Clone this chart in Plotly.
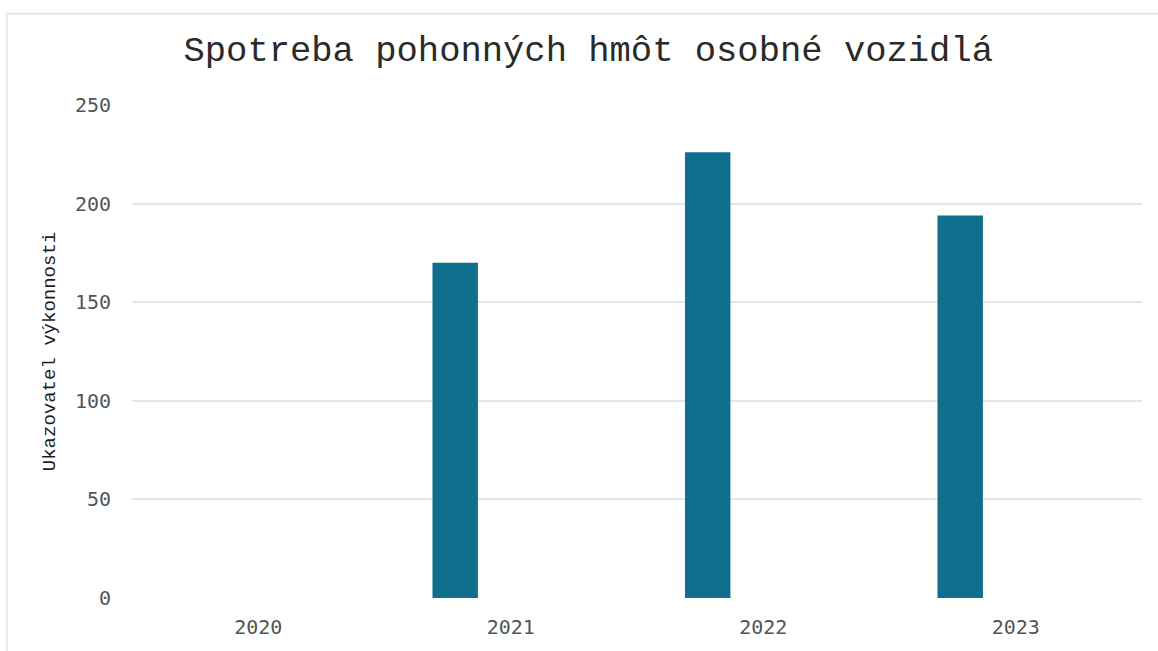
import plotly.graph_objects as go

years = ["2020", "2021", "2022", "2023"]
values = [None, 170, 226, 194]
y_ticks = [0, 50, 100, 150, 200, 250]

title_text = "Spotreba pohonných hmôt osobné vozidlá"
y_title = "Ukazovatel výkonnosti"

fig = go.Figure()
fig.add_trace(go.Bar(
    x=years, y=values,
    marker=dict(color="#0f6f8d", line=dict(width=0)),
    width=0.18, offset=-0.31,
    showlegend=False,
))

fig.update_layout(
    width=1158, height=651,
    paper_bgcolor="white", plot_bgcolor="white",
    margin=dict(l=132, r=16, t=105, b=46),
    title=dict(text=title_text, x=0.508, xanchor="center", y=0.925, yanchor="middle",
               font=dict(family="Liberation Mono", size=35.5, color="#2a2a2a")),
    xaxis=dict(type="category", range=[-0.5, 3.5], showgrid=False, zeroline=False,
               showline=False, ticks="",
               tickfont=dict(family="DejaVu Sans Mono", size=20, color="#555555"),
               ticklabelstandoff=15),
    yaxis=dict(range=[0, 250], tickvals=y_ticks, showgrid=True, gridcolor="#e3e6e6",
               gridwidth=1.5, zeroline=False, showline=False, ticks="",
               tickfont=dict(family="DejaVu Sans Mono", size=20, color="#555555"),
               ticklabelstandoff=20,
               title=dict(text=y_title, standoff=14,
                          font=dict(family="Liberation Mono", size=19, color="#1e1e1e"))),
    shapes=[dict(type="rect", xref="paper", yref="paper", x0=-0.124, x1=1.03, y0=-0.12, y1=1.185,
                 line=dict(color="#e8e8e8", width=2), fillcolor="rgba(0,0,0,0)", layer="below")],
)

fig.write_html("out.html", config={"displayModeBar": False},
               post_script="document.body.style.margin='0';document.body.style.overflow='hidden';")
